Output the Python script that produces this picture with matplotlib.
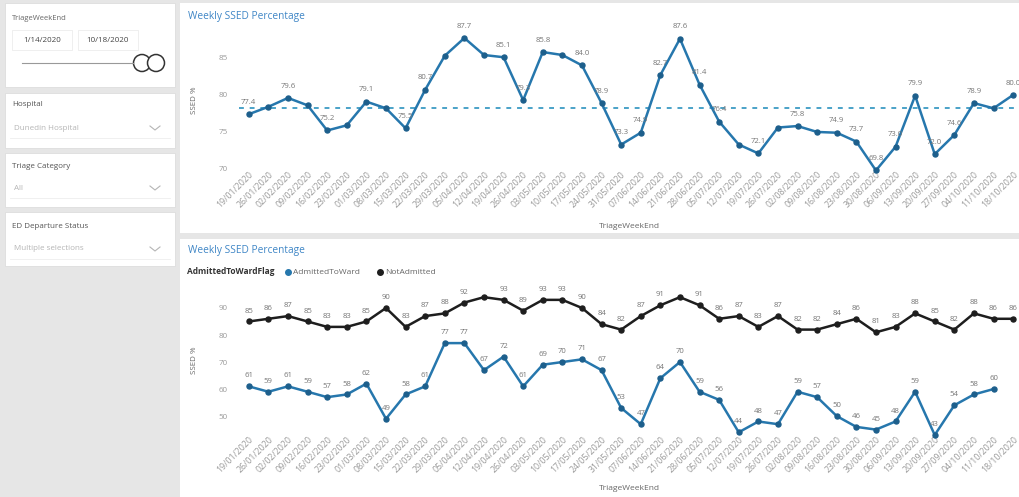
import numpy as np
import matplotlib
matplotlib.use("Agg")
import matplotlib.pyplot as plt
from matplotlib.patches import Rectangle, Circle

plt.rcParams['font.family'] = ['Open Sans', 'DejaVu Sans']

# --- datos ---
semanas = ["19/01/2020", "26/01/2020", "02/02/2020", "09/02/2020", "16/02/2020",
           "23/02/2020", "01/03/2020", "08/03/2020", "15/03/2020", "22/03/2020",
           "29/03/2020", "05/04/2020", "12/04/2020", "19/04/2020", "26/04/2020",
           "03/05/2020", "10/05/2020", "17/05/2020", "24/05/2020", "31/05/2020",
           "07/06/2020", "14/06/2020", "21/06/2020", "28/06/2020", "05/07/2020",
           "12/07/2020", "19/07/2020", "26/07/2020", "02/08/2020", "09/08/2020",
           "16/08/2020", "23/08/2020", "30/08/2020", "06/09/2020", "13/09/2020",
           "20/09/2020", "27/09/2020", "04/10/2020", "11/10/2020", "18/10/2020"]

ssed = [77.4, 78.4, 79.6, 78.6, 75.2, 75.9, 79.1, 78.2, 75.5, 80.7,
        85.3, 87.7, 85.4, 85.1, 79.3, 85.8, 85.4, 84.0, 78.9, 73.3,
        74.9, 82.7, 87.6, 81.4, 76.4, 73.3, 72.1, 75.6, 75.8, 75.0,
        74.9, 73.7, 69.8, 73.0, 79.9, 72.0, 74.6, 78.9, 78.2, 80.0]
ssed_etiquetas = [0, 2, 4, 6, 8, 9, 11, 13, 14, 15, 17, 18, 19, 20, 21, 22, 23,
                  24, 26, 28, 30, 31, 32, 33, 34, 35, 36, 37, 39]
ssed_media = 78.3

admitted = [61, 59, 61, 59, 57, 58, 62, 49, 58, 61,
            77, 77, 67, 72, 61, 69, 70, 71, 67, 53,
            47, 64, 70, 59, 56, 44, 48, 47, 59, 57,
            50, 46, 45, 48, 59, 43, 54, 58, 60, np.nan]
not_admitted = [85, 86, 87, 85, 83, 83, 85, 90, 83, 87,
                88, 92, 94, 93, 89, 93, 93, 90, 84, 82,
                87, 91, 94, 91, 86, 87, 83, 87, 82, 82,
                84, 86, 81, 83, 88, 85, 82, 88, 86, 86]
not_admitted_sin_etiqueta = [12, 22]

W, H = 1019, 497
AZUL = '#2677ad'
NEGRO = '#1e1e1e'


def caja(x, y, w, h):
    return [x / W, 1 - (y + h) / H, w / W, h / H]


fig = plt.figure(figsize=(W / 100, H / 100), dpi=100)
fig.patch.set_facecolor('#e6e6e6')

# fondo con coordenadas en pixeles
bg = fig.add_axes([0, 0, 1, 1], zorder=0)
bg.set_xlim(0, W)
bg.set_ylim(H, 0)
bg.axis('off')

# tarjetas
for (x, y, w, h) in [(180, 3, 839, 230), (180, 239, 839, 258)]:
    bg.add_patch(Rectangle((x, y), w, h, facecolor='white', edgecolor='none'))
for (x, y, w, h) in [(5, 3, 170, 84), (5, 93, 170, 55), (5, 153, 170, 54), (5, 212, 170, 54)]:
    bg.add_patch(Rectangle((x, y), w, h, facecolor='white', edgecolor='#dddddd', lw=0.6))

# --- filtros de la izquierda ---
bg.text(12, 18, 'TriageWeekEnd', fontsize=5.5, color='#666666', va='center')
for (x, txt) in [(12, '1/14/2020'), (78, '10/18/2020')]:
    bg.add_patch(Rectangle((x, 30), 60, 20, facecolor='white', edgecolor='#ececec', lw=0.6))
    bg.text(x + 30, 40, txt, fontsize=5.8, color='#444444', ha='center', va='center')
bg.plot([22, 133], [63, 63], color='#999999', lw=0.8)
bg.add_patch(Circle((142, 63), 8.5, facecolor='white', edgecolor='#333333', lw=1.1))
bg.add_patch(Circle((156, 63), 8.5, facecolor='white', edgecolor='#333333', lw=1.1))

filtros = [('Hospital', 'Dunedin Hospital', 105, 128),
           ('Triage Category', 'All', 167, 188),
           ('ED Departure Status', 'Multiple selections', 227, 249)]
for titulo, valor, yt, yv in filtros:
    bg.text(12, yt, titulo, fontsize=5.8, color='#555555', va='center')
    bg.text(14, yv, valor, fontsize=5.8, color='#b5b5b5', va='center')
    bg.plot([150, 155, 160], [yv - 2, yv + 2, yv - 2], color='#b5b5b5', lw=0.8)
    bg.plot([10, 170], [yv + 10, yv + 10], color='#eeeeee', lw=0.6)

# --- textos de los graficos ---
for y in [16, 250]:
    bg.text(188, y, 'Weekly SSED Percentage', fontsize=7.3, color='#3f86c6', va='center')
bg.text(195, 100, 'SSED %', rotation=90, fontsize=5.8, color='#666666', ha='center', va='center')
bg.text(195, 360, 'SSED %', rotation=90, fontsize=5.8, color='#666666', ha='center', va='center')
bg.text(629, 226, 'TriageWeekEnd', fontsize=6, color='#666666', ha='center', va='center')
bg.text(629, 488, 'TriageWeekEnd', fontsize=6, color='#666666', ha='center', va='center')

# leyenda
bg.text(187, 272, 'AdmittedToWardFlag', fontsize=6, color='#333333', fontweight='bold', va='center')
bg.plot([288], [272], 'o', color=AZUL, ms=4)
bg.text(293, 272, 'AdmittedToWard', fontsize=6, color='#666666', va='center')
bg.plot([380], [272], 'o', color=NEGRO, ms=4)
bg.text(385, 272, 'NotAdmitted', fontsize=6, color='#666666', va='center')

x = np.arange(len(semanas))


def estilo(ax, ylim, yticks):
    ax.set_facecolor('none')
    for s in ax.spines.values():
        s.set_visible(False)
    ax.set_xlim(-0.5, 39.3)
    ax.set_ylim(*ylim)
    ax.set_yticks(yticks)
    ax.set_xticks(x)
    ax.set_xticklabels(semanas, rotation=45, ha='right', rotation_mode='anchor',
                       fontsize=6.3, color='#9a9a9a')
    ax.tick_params(axis='x', length=0, pad=0)
    ax.tick_params(axis='y', length=0, pad=8, labelsize=5.8, labelcolor='#9a9a9a')


# --- grafico superior ---
ax1 = fig.add_axes(caja(239, 30, 780, 140), zorder=2)
estilo(ax1, (69.86, 88.78), [70, 75, 80, 85])
ax1.axhline(ssed_media, color='#4aa2c8', lw=1.4, ls=(0, (2.5, 3)), zorder=1)
ax1.plot(x, ssed, color=AZUL, lw=1.8, marker='o', ms=3.6, mfc='#1d5f8c', mec='#1d5f8c',
         clip_on=False, zorder=3)
for i in ssed_etiquetas:
    ax1.annotate(f"{ssed[i]:.1f}", (x[i], ssed[i]), xytext=(0, 6), textcoords='offset points',
                 ha='center', va='bottom', fontsize=5.6, color='#777777', zorder=4)

# --- grafico inferior ---
ax2 = fig.add_axes(caja(239, 285, 780, 150), zorder=2)
estilo(ax2, (43.0, 98.5), [50, 60, 70, 80, 90])
ax2.plot(x, not_admitted, color=NEGRO, lw=1.8, marker='o', ms=3.6, clip_on=False, zorder=3)
ax2.plot(x, admitted, color=AZUL, lw=1.8, marker='o', ms=3.6, mfc='#1d5f8c', mec='#1d5f8c',
         clip_on=False, zorder=3)
for i, v in enumerate(not_admitted):
    if i in not_admitted_sin_etiqueta:
        continue
    ax2.annotate(f"{v:.0f}", (x[i], v), xytext=(0, 5), textcoords='offset points',
                 ha='center', va='bottom', fontsize=5.6, color='#777777', zorder=4)
for i, v in enumerate(admitted):
    if np.isnan(v):
        continue
    ax2.annotate(f"{v:.0f}", (x[i], v), xytext=(0, 5), textcoords='offset points',
                 ha='center', va='bottom', fontsize=5.6, color='#777777', zorder=4)

fig.savefig('out.png', dpi=100, facecolor=fig.get_facecolor())
